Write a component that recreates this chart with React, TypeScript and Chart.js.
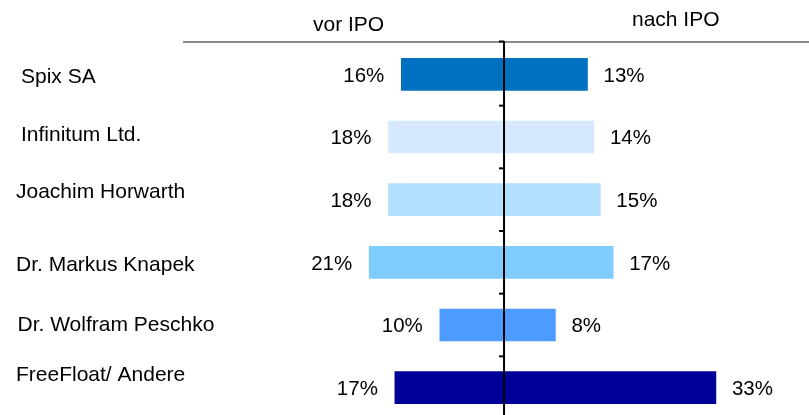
import React, { useEffect, useRef } from 'react';
import { Chart, registerables } from 'chart.js';

Chart.register(...registerables);

const categories = [
  'Spix SA',
  'Infinitum Ltd.',
  'Joachim Horwarth',
  'Dr. Markus Knapek',
  'Dr. Wolfram Peschko',
  'FreeFloat/ Andere',
];
const vorIPO = [16, 18, 18, 21, 10, 17];
const nachIPO = [13, 14, 15, 17, 8, 33];
const barColors = ['#0070C0', '#D6E9FF', '#B4E0FF', '#80CBFF', '#4D9BFF', '#000099'];
const headerLabels = ['vor IPO', 'nach IPO'];

const FONT = '"Liberation Sans", Arial, sans-serif';

const butterflyPlugin = {
  id: 'butterfly',
  afterDraw(chart: any) {
    const { ctx, chartArea, scales } = chart;
    const xs = scales.x;
    const ys = scales.y;
    const x0 = xs.getPixelForValue(0);
    const n = categories.length;
    const band = (chartArea.bottom - chartArea.top) / n;
    ctx.save();

    // top rule
    ctx.strokeStyle = '#8C8C8C';
    ctx.lineWidth = 2;
    ctx.beginPath();
    ctx.moveTo(chartArea.left, chartArea.top - 1);
    ctx.lineTo(chartArea.right, chartArea.top - 1);
    ctx.stroke();

    // central axis with ticks
    ctx.strokeStyle = '#000';
    ctx.lineWidth = 2;
    ctx.beginPath();
    ctx.moveTo(x0, chartArea.top - 2);
    ctx.lineTo(x0, chartArea.bottom);
    ctx.stroke();
    ctx.lineWidth = 2;
    for (let k = 0; k <= n; k++) {
      const y = chartArea.top + k * band - (k === 0 ? 1.5 : 0);
      ctx.beginPath();
      ctx.moveTo(x0 - 5, y);
      ctx.lineTo(x0, y);
      ctx.stroke();
    }

    // headers
    ctx.fillStyle = '#000';
    ctx.font = `21px ${FONT}`;
    ctx.textAlign = 'left';
    ctx.textBaseline = 'alphabetic';
    ctx.fillText(headerLabels[0], 313, 31);
    ctx.fillText(headerLabels[1], 632, 26);

    // category labels (hand-placed text boxes)
    const nudgeX = [21, 21, 16, 16, 17.5, 16];
    const nudgeY = [9, 4, -1.5, 8.5, 6, -6.5];
    categories.forEach((c, i) => {
      const yc = ys.getPixelForValue(i);
      ctx.fillText(c, nudgeX[i], yc + nudgeY[i]);
    });

    // value labels
    ctx.font = `20.5px ${FONT}`;
    categories.forEach((_, i) => {
      const yc = ys.getPixelForValue(i) + 7.3;
      ctx.textAlign = 'right';
      ctx.fillText(`${vorIPO[i]}%`, xs.getPixelForValue(-vorIPO[i]) - 17, yc);
      ctx.textAlign = 'left';
      ctx.fillText(`${nachIPO[i]}%`, xs.getPixelForValue(nachIPO[i]) + 16, yc);
    });
    ctx.restore();
  },
};

export default function App() {
  const ref = useRef<HTMLCanvasElement | null>(null);
  useEffect(() => {
    document.body.style.margin = '0';
    document.documentElement.style.overflow = 'hidden';
    document.body.style.overflow = 'hidden';
    if (!ref.current) return;
    const chart = new Chart(ref.current, {
      type: 'bar',
      data: {
        labels: categories,
        datasets: [
          {
            label: headerLabels[0],
            data: vorIPO.map((v) => -v),
            backgroundColor: barColors,
            borderWidth: 0,
            barThickness: 32,
          },
          {
            label: headerLabels[1],
            data: nachIPO,
            backgroundColor: barColors,
            borderWidth: 0,
            barThickness: 32,
          },
        ],
      },
      options: {
        indexAxis: 'y',
        responsive: false,
        animation: false,
        devicePixelRatio: 1,
        layout: { padding: { left: 183, top: 43, right: 0, bottom: 0 } },
        plugins: {
          legend: { display: false },
          tooltip: { enabled: false },
        },
        scales: {
          x: { display: false, stacked: true, min: -50, max: 47.5, grid: { display: false } },
          y: { display: false, stacked: true, grid: { display: false } },
        },
      },
      plugins: [butterflyPlugin],
    });
    return () => chart.destroy();
  }, []);
  return (
    <div style={{ width: 809, height: 415, overflow: 'hidden', background: '#fff' }}>
      <canvas ref={ref} width={809} height={419} style={{ display: 'block' }} />
    </div>
  );
}
